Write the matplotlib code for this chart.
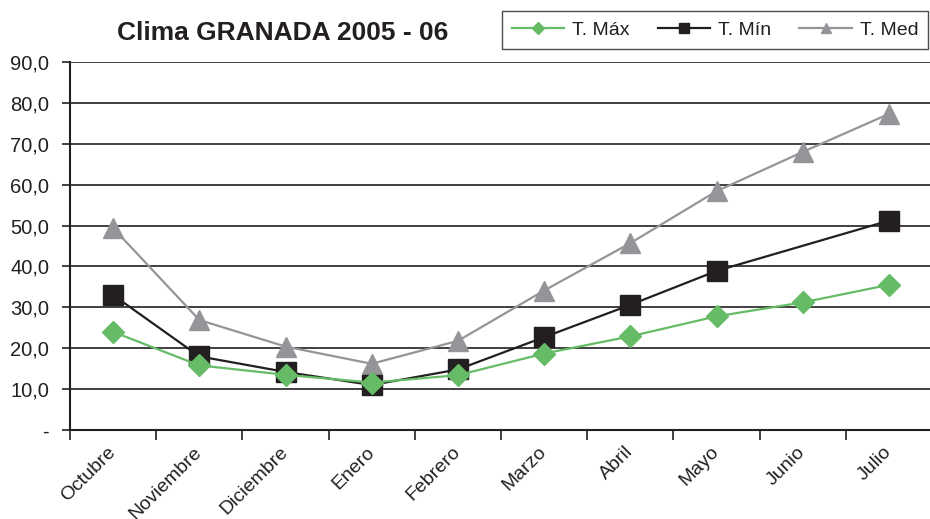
import numpy as np
import matplotlib
matplotlib.use("Agg")
import matplotlib.pyplot as plt
from matplotlib.ticker import FixedLocator, FuncFormatter

plt.rcParams['font.family'] = ['Liberation Sans', 'DejaVu Sans']

meses = ['Octubre', 'Noviembre', 'Diciembre', 'Enero', 'Febrero',
         'Marzo', 'Abril', 'Mayo', 'Junio', 'Julio']
t_max = [24.0, 15.8, 13.5, 11.6, 13.4, 18.7, 22.9, 27.8, 31.2, 35.5]
t_min = [33.0, 18.0, 14.2, 11.0, 14.8, 22.7, 30.6, 38.9, np.nan, 51.2]
t_med = [49.4, 26.9, 20.4, 16.2, 21.8, 34.1, 45.7, 58.4, 68.0, 77.3]

ink = '#231f20'
verde = '#66bb66'
gris = '#939598'

fig = plt.figure(figsize=(9.30, 5.19), dpi=100)
ax = fig.add_axes([70/930, 89/519, 862/930, 368/519])

x = np.arange(len(meses))


def serie(vals, **kw):
    # junio sin dato de mínima: la línea une los puntos vecinos
    v = np.array(vals, dtype=float)
    ok = ~np.isnan(v)
    return ax.plot(x[ok], v[ok], **kw)[0]


l1 = serie(t_max, color=verde, lw=1.6, marker='D', ms=11.5, mec=verde, zorder=5)
l2 = serie(t_min, color=ink, lw=1.6, marker='s', ms=14, mec=ink, zorder=4)
l3 = serie(t_med, color=gris, lw=1.6, marker='^', ms=15, mec=gris, zorder=3)

ax.set_xlim(-0.5, len(meses) - 0.5)
ax.set_ylim(0, 90)

ax.yaxis.set_major_locator(FixedLocator(np.arange(0, 91, 10)))
ax.yaxis.set_major_formatter(FuncFormatter(
    lambda v, p: '-' if v == 0 else f'{v:.1f}'.replace('.', ',')))
ax.grid(axis='y', color=ink, lw=1.2)
ax.set_axisbelow(True)

ax.xaxis.set_major_locator(FixedLocator(np.arange(-0.5, len(meses), 1.0)))
ax.xaxis.set_major_formatter(FuncFormatter(lambda v, p: ''))
ax.xaxis.set_minor_locator(FixedLocator(x))
ax.set_xticklabels(meses, minor=True, rotation=45, ha='right', va='center',
                   rotation_mode='anchor', fontsize=14, color=ink)
ax.tick_params(axis='x', which='major', direction='out', length=7, width=1.2, color=ink)
ax.tick_params(axis='x', which='minor', length=0, pad=14)
ax.tick_params(axis='y', direction='out', length=6, width=1.2, color=ink,
               labelsize=14.5, labelcolor=ink, pad=9)

for s in ['top', 'right']:
    ax.spines[s].set_visible(False)
for s in ['left', 'bottom']:
    ax.spines[s].set_color(ink)
    ax.spines[s].set_linewidth(1.5)

fig.text(283/930, 1 - 33/519, 'Clima GRANADA 2005 - 06', ha='center', va='center',
         fontsize=19, fontweight='bold', color=ink)

leg = fig.legend([l1, l2, l3], ['T. Máx', 'T. Mín', 'T. Med'], ncol=3,
                 loc='center', bbox_to_anchor=(715/930, 1 - 30/519),
                 fontsize=14, markerscale=0.5, handlelength=2.7,
                 columnspacing=1.45, handletextpad=0.4, frameon=True,
                 fancybox=False, borderpad=0.5)
leg.get_frame().set_edgecolor(ink)
leg.get_frame().set_linewidth(1.0)
for t in leg.get_texts():
    t.set_color(ink)

fig.savefig('out.png', dpi=100)
